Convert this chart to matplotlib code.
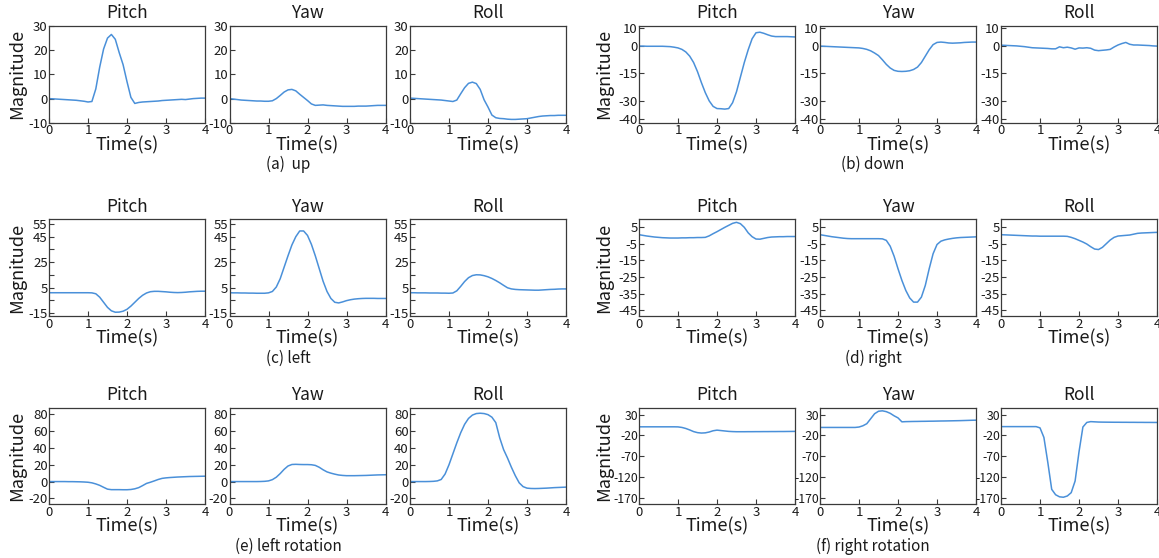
import numpy as np
import matplotlib
matplotlib.use("Agg")
import matplotlib.pyplot as plt

plt.rcParams['font.family'] = ['Noto Sans CJK SC', 'DejaVu Sans']
plt.rcParams['axes.unicode_minus'] = False

# ---------------- data ----------------
time_s = [0.0, 0.1, 0.2, 0.3, 0.4, 0.5, 0.6, 0.7, 0.8, 0.9,
          1.0, 1.1, 1.2, 1.3, 1.4, 1.5, 1.6, 1.7, 1.8, 1.9,
          2.0, 2.1, 2.2, 2.3, 2.4, 2.5, 2.6, 2.7, 2.8, 2.9,
          3.0, 3.1, 3.2, 3.3, 3.4, 3.5, 3.6, 3.7, 3.8, 3.9, 4.0]

axis_names = ["Pitch", "Yaw", "Roll"]
captions = ["(a)  up", "(b) down", "(c) left", "(d) right",
            "(e) left rotation", "(f) right rotation"]

# (a) up
up_pitch = [0, -0.1, -0.2, -0.3, -0.4, -0.5, -0.6, -0.7, -0.9, -1.1,
            -1.4, -1.2, 4, 13, 20.5, 25, 26.5, 24.5, 19, 14,
            7, 0.5, -2.0, -1.6, -1.4, -1.3, -1.2, -1.1, -1.0, -0.8,
            -0.7, -0.6, -0.5, -0.4, -0.3, -0.4, -0.2, 0, 0.1, 0.2, 0.2]
up_yaw = [0, -0.2, -0.4, -0.6, -0.7, -0.8, -0.9, -1.0, -1.0, -1.1,
          -1.1, -0.9, 0, 1.3, 2.7, 3.6, 3.8, 3.2, 1.8, 0.5,
          -0.8, -2.2, -2.8, -2.7, -2.6, -2.8, -2.9, -3.0, -3.1, -3.2,
          -3.2, -3.2, -3.2, -3.1, -3.1, -3.1, -3.0, -2.9, -2.8, -2.8, -2.8]
up_roll = [0.2, 0.1, 0, -0.1, -0.2, -0.3, -0.4, -0.5, -0.6, -0.8,
           -1.0, -1.2, -0.6, 2.0, 4.5, 6.3, 6.8, 6.2, 3.8, -0.5,
           -3.5, -6.8, -7.9, -8.2, -8.3, -8.5, -8.6, -8.6, -8.5, -8.4,
           -8.3, -8.0, -7.7, -7.4, -7.2, -7.1, -7.0, -7.0, -6.9, -6.9, -6.9]

# (b) down
down_pitch = [0, 0, -0.1, -0.1, -0.1, -0.1, -0.1, -0.2, -0.3, -0.6,
              -1.0, -1.8, -3.2, -5.5, -9, -14, -20, -25.5, -30, -33,
              -34.2, -34.3, -34.5, -34.2, -31, -25, -17, -9, -2, 4,
              7.3, 7.6, 7.0, 6.2, 5.5, 5.2, 5.2, 5.2, 5.2, 5.1, 5.0]
down_yaw = [0, -0.1, -0.2, -0.3, -0.4, -0.5, -0.6, -0.7, -0.8, -0.9,
            -1.0, -1.3, -1.8, -2.6, -3.8, -5.2, -7.5, -10, -12, -13.3,
            -13.8, -13.9, -13.8, -13.5, -12.8, -11.5, -9, -5.5, -2, 0.8,
            2.0, 2.2, 2.0, 1.7, 1.6, 1.7, 1.8, 2.0, 2.1, 2.2, 2.2]
down_roll = [0.5, 0.4, 0.3, 0.2, 0.1, -0.1, -0.3, -0.6, -0.9, -1.0,
             -1.1, -1.2, -1.3, -1.5, -1.5, -0.4, -0.9, -0.6, -1.0, -1.7,
             -1.0, -1.1, -0.9, -1.2, -2.2, -2.5, -2.3, -2.1, -1.8, -0.5,
             0.6, 1.4, 2.0, 1.0, 0.6, 0.6, 0.5, 0.4, 0.3, 0.1, 0.0]

# (c) left
left_pitch = [1.0, 1.0, 1.0, 1.0, 1.0, 1.0, 1.0, 1.0, 1.0, 1.0,
              1.0, 0.9, 0.2, -2.5, -6.5, -10.5, -13.2, -14.3, -14.2, -13.5,
              -12, -9.5, -6.5, -3.5, -1, 0.8, 1.8, 2.1, 2.1, 1.9,
              1.7, 1.4, 1.2, 1.1, 1.2, 1.4, 1.7, 1.9, 2.1, 2.2, 2.2]
left_yaw = [1.0, 0.9, 0.9, 0.8, 0.8, 0.7, 0.7, 0.6, 0.6, 0.6,
            0.9, 2.0, 5.5, 12, 21, 30, 38.5, 45, 49.5, 49.5,
            46, 39, 30, 20, 10, 2, -3.5, -6.5, -7.0, -6.2,
            -5.2, -4.5, -4.0, -3.7, -3.5, -3.4, -3.4, -3.4, -3.5, -3.5, -3.5]
left_roll = [1.0, 1.0, 0.9, 0.9, 0.9, 0.8, 0.8, 0.8, 0.7, 0.7,
             0.6, 0.8, 2.5, 6.0, 9.8, 12.8, 14.5, 15.1, 15.0, 14.4,
             13.5, 12.2, 10.6, 8.8, 6.8, 4.9, 4.0, 3.6, 3.4, 3.3,
             3.2, 3.1, 3.0, 3.0, 3.2, 3.4, 3.6, 3.7, 3.9, 4.0, 4.0]

# (d) right
right_pitch = [0.4, 0.0, -0.4, -0.7, -1.0, -1.2, -1.4, -1.5, -1.6, -1.6,
               -1.6, -1.5, -1.5, -1.4, -1.4, -1.3, -1.3, -1.2, -0.3, 1.0,
               2.2, 3.5, 4.8, 6.0, 7.2, 7.8, 7.0, 4.8, 1.5, -0.8,
               -2.2, -2.3, -1.8, -1.3, -1.0, -0.9, -0.8, -0.8, -0.7, -0.7, -0.7]
right_yaw = [0.4, 0, -0.4, -0.8, -1.1, -1.4, -1.7, -1.9, -2.0, -2.0,
             -2.0, -2.0, -2.0, -2.0, -2.0, -2.0, -2.1, -3.0, -6.5, -12.5,
             -20, -27, -33, -37.5, -40.0, -40.0, -37, -30, -20, -11,
             -5.5, -3.5, -2.7, -2.2, -1.8, -1.5, -1.3, -1.2, -1.1, -1.0, -0.9]
right_roll = [0.4, 0.3, 0.2, 0.1, 0, -0.1, -0.2, -0.3, -0.4, -0.4,
              -0.5, -0.5, -0.5, -0.5, -0.5, -0.5, -0.5, -0.6, -1.2, -2.0,
              -3.0, -4.0, -5.2, -6.8, -8.2, -8.5, -7.2, -5.0, -2.8, -1.2,
              -0.4, -0.2, 0.0, 0.2, 0.7, 1.2, 1.4, 1.5, 1.6, 1.7, 1.8]

# (e) left rotation
lrot_pitch = [0, 0, 0, 0, 0, -0.1, -0.1, -0.2, -0.3, -0.5,
              -0.8, -1.5, -2.8, -4.5, -6.8, -9.0, -9.6, -9.6, -9.6, -9.7,
              -9.7, -9.4, -8.6, -7.2, -4.8, -2.2, -0.8, 0.8, 2.5, 3.8,
              4.4, 4.8, 5.1, 5.4, 5.6, 5.8, 6.0, 6.1, 6.2, 6.3, 6.4]
lrot_yaw = [0, 0, 0, 0, 0, 0, 0, 0, 0.1, 0.3,
            0.8, 2.3, 5.2, 9.5, 14.5, 18.5, 20.3, 20.5, 20.3, 20.2,
            20.2, 20.0, 19.2, 17.0, 14.0, 11.5, 10.0, 8.8, 7.8, 7.3,
            7.0, 7.0, 7.0, 7.1, 7.2, 7.3, 7.5, 7.7, 7.9, 8.0, 8.1]
lrot_roll = [0, 0, 0, 0, 0, 0.1, 0.3, 0.8, 2.5, 9,
             20, 33, 46, 58, 68, 75, 79, 80.8, 81.2, 80.8,
             79.5, 76.5, 70, 52, 38, 28, 17, 7, -1.5, -6,
             -7.8, -8.2, -8.3, -8.2, -8.0, -7.8, -7.5, -7.2, -7.0, -6.8, -6.6]

# (f) right rotation
rrot_pitch = [0.5, 0.5, 0.5, 0.5, 0.5, 0.5, 0.5, 0.5, 0.5, 0.5,
              0.3, -1, -3.5, -7, -11, -13.5, -14.5, -14, -12, -9,
              -7.5, -8.5, -9.5, -10.5, -11, -11.3, -11.3, -11.3, -11.2, -11.2,
              -11.1, -11.1, -11.0, -11.0, -10.9, -10.9, -10.8, -10.8, -10.7, -10.6, -10.5]
rrot_yaw = [-1, -1, -1, -1, -1, -1, -1, -1, -1, -1,
            0, 3, 8, 20, 32, 38, 39, 37, 33, 27,
            22, 12.5, 13, 13.2, 13.4, 13.5, 13.7, 13.8, 14.0, 14.1,
            14.3, 14.5, 14.6, 14.8, 15.0, 15.2, 15.4, 15.7, 16.0, 16.3, 16.5]
rrot_roll = [1, 1, 1, 1, 1, 1, 1, 1, 1, 1,
             -2, -25, -85, -150, -163, -168, -169, -166, -158, -130,
             -60, 0, 11, 13, 12.5, 12, 11.8, 11.7, 11.6, 11.5,
             11.5, 11.4, 11.4, 11.3, 11.3, 11.2, 11.2, 11.1, 11.1, 11.0, 11.0]

gestures = [
    [up_pitch, up_yaw, up_roll],
    [down_pitch, down_yaw, down_roll],
    [left_pitch, left_yaw, left_roll],
    [right_pitch, right_yaw, right_roll],
    [lrot_pitch, lrot_yaw, lrot_roll],
    [rrot_pitch, rrot_yaw, rrot_roll],
]

y_ticks = [
    [-10, 0, 10, 20, 30],
    [-40, -30, -15, 0, 10],
    [-15, -5, 5, 15, 25, 35, 45, 55],
    [-45, -35, -25, -15, -5, 5],
    [-20, 0, 20, 40, 60, 80],
    [-170, -120, -70, -20, 30],
]
y_ticklabels = [
    ["-10", "0", "10", "20", "30"],
    ["-40", "-30", "-15", "0", "10"],
    ["-15", "", "5", "", "25", "", "45", "55"],
    ["-45", "-35", "-25", "-15", "-5", "5"],
    ["-20", "0", "20", "40", "60", "80"],
    ["-170", "-120", "-70", "-20", "30"],
]
y_limits = [(-10, 30), (-42, 11), (-17.5, 58.5), (-48.5, 9.5), (-27, 88), (-186, 47)]
x_ticks = [0, 1, 2, 3, 4]

# ---------------- layout ----------------
W, H = 1159, 558
fig = plt.figure(figsize=(W / 100, H / 100), dpi=100)

col_left = [[49, 229.5, 410], [639, 820, 1001]]
row_top = [26, 219.5, 407.5]
ax_w, ax_h = 156, 96.8
line_color = "#4a90d9"
text_color = "#1a1a1a"
spine_color = "#3a3a3a"
ylabel_offset = [32, 35]

for g, series in enumerate(gestures):
    r, side = g // 2, g % 2
    for k in range(3):
        left = col_left[side][k]
        top = row_top[r]
        ax = fig.add_axes([left / W, 1 - (top + ax_h) / H, ax_w / W, ax_h / H])
        ax.plot(time_s, series[k], color=line_color, lw=1.1)
        ax.set_xlim(0, 4)
        ax.set_ylim(*y_limits[g])
        ax.set_xticks(x_ticks)
        ax.set_xticklabels([str(v) for v in x_ticks])
        ax.set_yticks(y_ticks[g])
        ax.set_yticklabels(y_ticklabels[g])
        ax.tick_params(direction="in", length=3.5, width=0.8, labelsize=9.5,
                       colors=spine_color, labelcolor=text_color, pad=1.0,
                       top=False, right=False)
        if g == 5:
            ax.tick_params(axis="y", labelsize=8.8, pad=0.5)
        for sp in ax.spines.values():
            sp.set_color(spine_color)
            sp.set_linewidth(0.9)
        cx = (left + ax_w / 2) / W
        fig.text(cx, 1 - (top - 13) / H, axis_names[k], ha="center", va="center",
                 fontsize=12.5, color=text_color)
        fig.text(cx, 1 - (top + ax_h + 22.5) / H, "Time(s)", ha="center", va="center",
                 fontsize=13, color=text_color)
        if k == 0:
            fig.text((left - ylabel_offset[side]) / W, 1 - (top + ax_h / 2) / H, "Magnitude",
                     rotation=90, ha="center", va="center", fontsize=13, color=text_color)
    cap_x = [288, 873][side]
    fig.text(cap_x / W, 1 - (row_top[r] + ax_h + 42) / H, captions[g],
             ha="center", va="center", fontsize=11, color=text_color)

fig.savefig("out.png", dpi=100)
